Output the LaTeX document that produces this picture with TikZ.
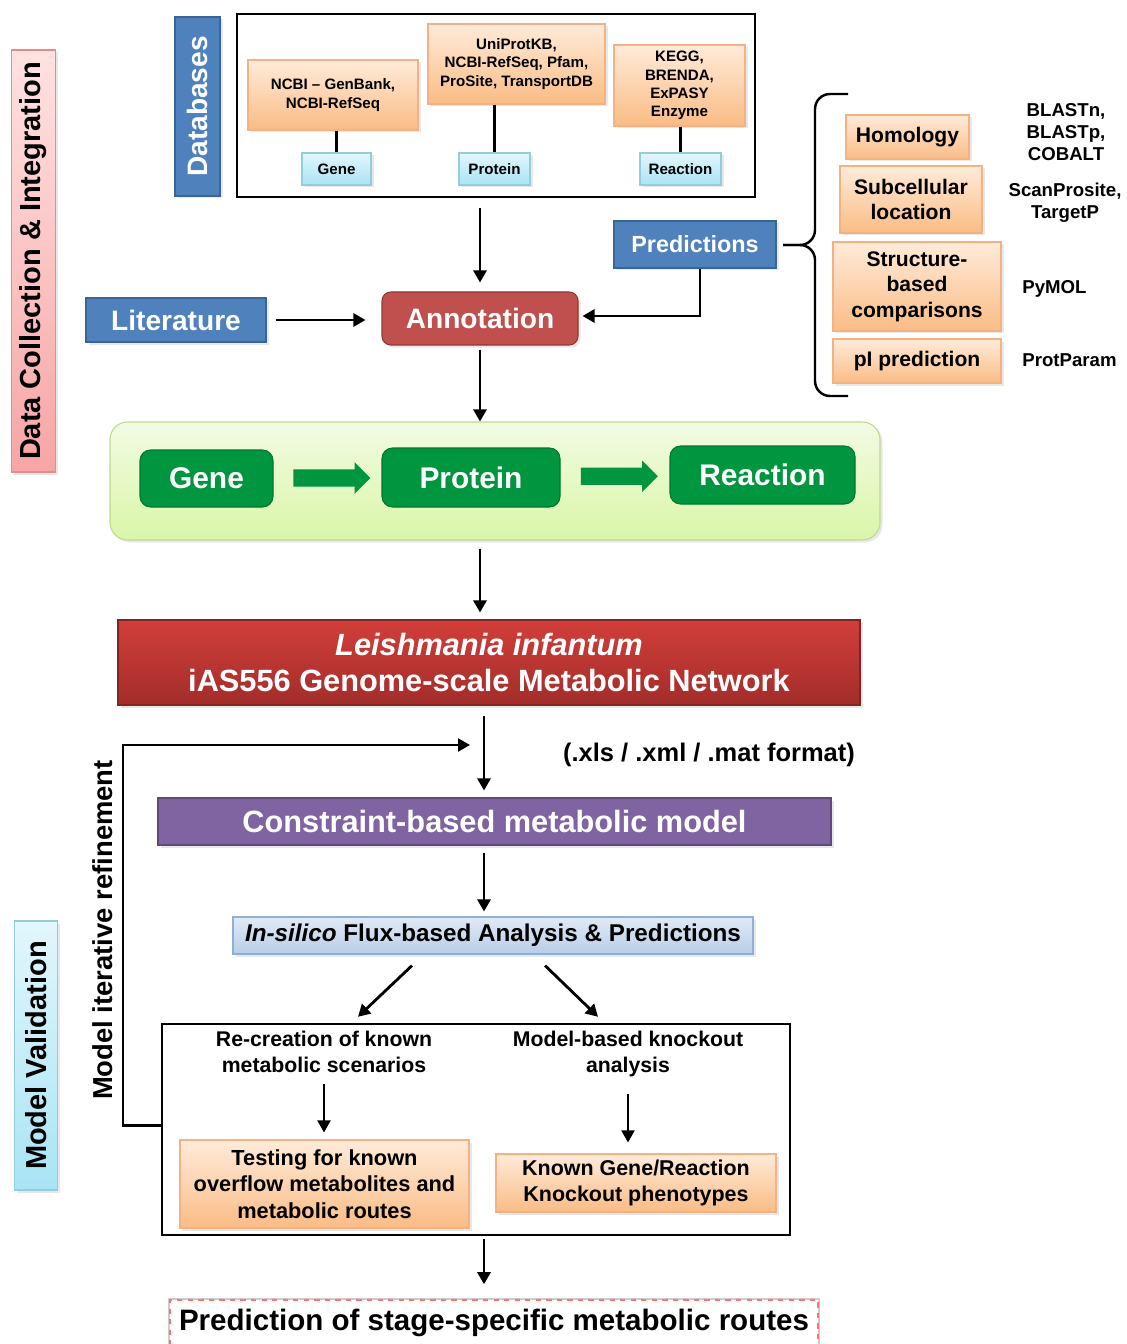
\documentclass[tikz,border=0pt]{standalone}
\usepackage{fontspec}
\setmainfont{Liberation Sans}
\usepackage{tikz}
\usetikzlibrary{arrows.meta,positioning,calc,shapes.arrows,shadows}
\newcommand*{\fsz}[2]{\fontsize{#1}{#2}\selectfont}

\definecolor{dbblue}{HTML}{4F81BD}
\definecolor{dbblueline}{HTML}{3A6594}
\definecolor{annred}{HTML}{C0504D}
\definecolor{annredline}{HTML}{8C3836}
\definecolor{geneg}{HTML}{00953F}
\definecolor{purp}{HTML}{8064A2}
\definecolor{purpline}{HTML}{5E4A7C}
\definecolor{peach}{HTML}{FFEBD9}
\definecolor{peachdark}{HTML}{FABC85}
\definecolor{peachline}{HTML}{F4B183}
\definecolor{cyanlight}{HTML}{E2F6FC}
\definecolor{cyandark}{HTML}{A9E4F5}
\definecolor{cyanline}{HTML}{93CDDD}
\definecolor{limelight}{HTML}{F3FBE3}
\definecolor{limedark}{HTML}{D9F6A8}
\definecolor{limeline}{HTML}{BFD98E}
\definecolor{netlight}{HTML}{D23E3A}
\definecolor{netdark}{HTML}{A22D2A}
\definecolor{fluxlight}{HTML}{E1EAF6}
\definecolor{fluxdark}{HTML}{B8CDE8}
\definecolor{fluxline}{HTML}{8EAFD8}
\definecolor{pinklight}{HTML}{FFE2E2}
\definecolor{pinkdark}{HTML}{F7A5A5}
\definecolor{pinkline}{HTML}{E88A8A}

\begin{document}
\begin{tikzpicture}[>={Triangle[length=2.4mm,width=2.6mm]}, line width=0.6pt]
    \tikzstyle{arr}=[->, line width=1.6pt]
    \tikzstyle{softshadow}=[drop shadow={opacity=0.18, shadow xshift=0.05cm, shadow yshift=-0.05cm}]
    \tikzstyle{peachbox}=[draw=peachline, top color=peach, bottom color=peachdark, align=center, softshadow]
    \tikzstyle{dbsrc}=[peachbox, font=\fsz{8.6}{10.4}\bfseries]
    \tikzstyle{dbtag}=[draw=cyanline, top color=cyanlight, bottom color=cyandark, font=\fsz{8.6}{10}\bfseries, minimum height=0.64cm, softshadow]
    \tikzstyle{bluebox}=[draw=dbblueline, fill=dbblue, text=white, font=\fsz{16}{19}\bfseries, softshadow]
    \tikzstyle{tool}=[peachbox, font=\fsz{12}{14.5}\bfseries]
    \tikzstyle{tooltxt}=[align=center, font=\fsz{10.6}{12.5}\bfseries]
    \tikzstyle{flow}=[draw=geneg!80!black, fill=geneg, rounded corners=6pt, text=white, font=\fsz{17}{20}\bfseries]
    \tikzstyle{fatarrow}=[single arrow, fill=geneg, inner xsep=0pt, inner ysep=0.16cm, minimum height=1.54cm, single arrow head extend=0.14cm, single arrow head indent=0pt]
    \tikzstyle{sidelabel}=[rotate=90, font=\fsz{16.5}{20}\bfseries, minimum height=0.87cm, softshadow]
    \tikzstyle{frame}=[draw, line width=1.4pt]
    \useasboundingbox (0,0) rectangle (22.52,-26.88);

    % side labels
    \node[sidelabel, draw=pinkline, top color=pinklight, bottom color=pinkdark, minimum width=8.44cm] (dci) at (0.67,-5.22) {Data Collection \& Integration};
    \node[sidelabel, draw=cyanline, top color=cyanlight, bottom color=cyandark, minimum width=5.38cm] (mval) at (0.72,-21.11) {Model Validation};
    \node[rotate=90, font=\fsz{15.6}{18}\bfseries] (iter) at (2.06,-18.6) {Model iterative refinement};
    \node[bluebox, rotate=90, minimum width=3.58cm, minimum height=0.9cm] (dbs) at (3.95,-2.13) {Databases};

    % databases
    \node[frame, minimum width=10.36cm, minimum height=3.66cm] (dbframe) at (9.92,-2.11) {};
    \node[dbsrc, minimum width=3.4cm, minimum height=1.4cm] (ncbi) at (6.66,-1.9) {NCBI \textendash{} GenBank,\\NCBI-RefSeq};
    \node[dbsrc, minimum width=3.54cm, minimum height=1.6cm] (uniprot) at (10.33,-1.28) {UniProtKB,\\NCBI-RefSeq, Pfam,\\ProSite, TransportDB};
    \node[dbsrc, minimum width=2.62cm, minimum height=1.62cm] (kegg) at (13.59,-1.71) {KEGG,\\BRENDA,\\ExPASY\\Enzyme};
    \node[dbtag, minimum width=1.38cm] (tgene) at (6.73,-3.38) {Gene};
    \node[dbtag, minimum width=1.42cm] (tprot) at (9.89,-3.38) {Protein};
    \node[dbtag, minimum width=1.62cm] (treac) at (13.61,-3.38) {Reaction};
    \draw[line width=1.4pt] (tgene.north) -- (tgene.north |- ncbi.south);
    \draw[line width=1.4pt] (tprot.north) -- (tprot.north |- uniprot.south);
    \draw[line width=1.4pt] (treac.north) -- (treac.north |- kegg.south);

    % annotation
    \node[bluebox, minimum width=3.6cm, minimum height=0.88cm] (lit) at (3.52,-6.4) {Literature};
    \node[draw=annredline, fill=annred, rounded corners=5pt, text=white, font=\fsz{16}{19}\bfseries, minimum width=3.92cm, minimum height=1.06cm, softshadow] (annot) at (9.6,-6.37) {Annotation};
    \node[bluebox, font=\fsz{13.3}{16}\bfseries, minimum width=3.24cm, minimum height=0.94cm] (pred) at (13.9,-4.89) {Predictions};
    \draw[arr, shorten <=0.2cm, shorten >=0.18cm] (dbframe.south -| annot) -- (annot.north);
    \draw[arr, shorten <=0.18cm, shorten >=0.32cm] (lit.east) -- (lit.east -| annot.west);
    \draw[arr, shorten >=0.08cm] ([xshift=0.1cm]pred.south) |- ([yshift=0.05cm]annot.east);

    % prediction tools
    \draw[line width=1.4pt, rounded corners=0.3cm] (16.96,-1.88) -- (16.3,-1.88) -- (16.3,-4.9) -- (15.66,-4.9);
    \draw[line width=1.4pt, rounded corners=0.3cm] (15.66,-4.9) -- (16.3,-4.9) -- (16.3,-7.92) -- (16.96,-7.92);
    \node[tool, minimum width=2.46cm, minimum height=0.88cm] (homol) at (18.15,-2.74) {Homology};
    \node[tool, minimum width=2.84cm, minimum height=1.34cm] (subcell) at (18.22,-3.99) {Subcellular\\location};
    \node[tool, minimum width=3.36cm, minimum height=1.78cm] (struct) at (18.34,-5.73) {Structure-\\based\\comparisons};
    \node[tool, minimum width=3.36cm, minimum height=0.88cm] (pipred) at (18.34,-7.22) {pI prediction};
    \node[tooltxt] (blast) at (21.32,-2.64) {BLASTn,\\BLASTp,\\COBALT};
    \node[tooltxt] (scan) at (21.3,-4.06) {ScanProsite,\\TargetP};
    \node[tooltxt, anchor=west] (pymol) at (20.32,-5.78) {PyMOL};
    \node[tooltxt, anchor=west] (protparam) at (20.32,-7.2) {ProtParam};

    % gene - protein - reaction
    \node[draw=limeline, top color=limelight, bottom color=limedark, rounded corners=10pt, minimum width=15.4cm, minimum height=2.36cm, softshadow] (gpr) at (9.9,-9.62) {};
    \node[flow, minimum width=2.66cm, minimum height=1.14cm] (fgene) at (4.13,-9.57) {Gene};
    \node[flow, minimum width=3.56cm, minimum height=1.18cm] (fprot) at (9.42,-9.55) {Protein};
    \node[flow, minimum width=3.7cm, minimum height=1.16cm] (freac) at (15.25,-9.5) {Reaction};
    \node[fatarrow] (g2p) at ($(fgene.east)!0.5!(fprot.west)$) {};
    \node[fatarrow] (p2r) at ($(fprot.east)!0.5!(freac.west)$) {};
    \draw[arr, shorten <=0.08cm] (annot.south) -- (annot.south |- gpr.north);

    % model
    \coordinate (spine) at (9.68,-14.9);
    \coordinate (loopend) at (9.4,-14.9);
    \node[draw=netdark!80!black, top color=netlight, bottom color=netdark, text=white, align=center, font=\fsz{17.5}{21}\bfseries, minimum width=14.84cm, minimum height=1.7cm, softshadow] (net) at (9.78,-13.25) {\textit{Leishmania infantum}\\iAS556 Genome-scale Metabolic Network};
    \draw[arr, shorten <=0.16cm, shorten >=0.14cm] (gpr.south -| annot) -- (net.north -| annot);
    \node[font=\fsz{14.5}{17}\bfseries] (fmt) at (14.18,-15.1) {(.xls / .xml / .mat format)};
    \node[draw=purpline, fill=purp, text=white, font=\fsz{17.5}{21}\bfseries, minimum width=13.46cm, minimum height=0.94cm, softshadow] (cbm) at (9.89,-16.43) {Constraint-based metabolic model};
    \draw[arr, shorten <=0.2cm, shorten >=0.14cm] (net.south -| spine) -- (cbm.north -| spine);
    \node[draw=fluxline, top color=fluxlight, bottom color=fluxdark, font=\fsz{13.8}{16}\bfseries, minimum width=10.4cm, minimum height=0.74cm, softshadow] (flux) at (9.86,-18.71) {\textit{In-silico} Flux-based Analysis \& Predictions};
    \draw[arr, shorten <=0.14cm, shorten >=0.1cm] (cbm.south -| spine) -- (flux.north -| spine);

    % validation
    \node[frame, minimum width=12.56cm, minimum height=4.22cm] (valframe) at (9.52,-22.59) {};
    \draw[arr] ([xshift=-1.62cm,yshift=-0.22cm]flux.south) -- ([xshift=-2.36cm,yshift=0.12cm]valframe.north);
    \draw[arr] ([xshift=1.04cm,yshift=-0.22cm]flux.south) -- ([xshift=2.44cm,yshift=0.12cm]valframe.north);
    \node[align=center, font=\fsz{12.1}{14.8}\bfseries] (recreate) at (6.48,-21.04) {Re-creation of known\\metabolic scenarios};
    \node[align=center, font=\fsz{12.1}{14.8}\bfseries] (kobased) at (12.56,-21.08) {Model-based knockout\\analysis};
    \node[peachbox, font=\fsz{12.4}{15.2}\bfseries, minimum width=5.78cm, minimum height=1.76cm] (testing) at (6.49,-23.68) {Testing for known\\overflow metabolites and\\metabolic routes};
    \node[peachbox, font=\fsz{12.2}{14.8}\bfseries, minimum width=5.6cm, minimum height=1.16cm] (known) at (12.72,-23.66) {Known Gene/Reaction\\Knockout phenotypes};
    \draw[arr, line width=1.1pt, shorten <=0.1cm, shorten >=0.14cm] (recreate.south) -- (recreate.south |- testing.north);
    \draw[arr, line width=1.1pt, shorten <=0.22cm, shorten >=0.22cm] (kobased.south) -- (kobased.south |- known.north);
    \draw[arr, line width=1.3pt] ([yshift=0.08cm]valframe.west) -- ++(-0.76,0) |- (loopend);

    % result
    \draw[arr, shorten <=0.06cm, shorten >=0.1cm] (valframe.south -| spine) -- ++(0,-1.06);
    \node[draw=red!55, dashed, line width=1.1pt, preaction={draw=gray!40, solid, line width=2.6pt}, fill=white, font=\fsz{16.8}{20}\bfseries, minimum width=12.96cm, minimum height=0.9cm] (stage) at (9.88,-26.45) {Prediction of stage-specific metabolic routes};
\end{tikzpicture}
\end{document}
